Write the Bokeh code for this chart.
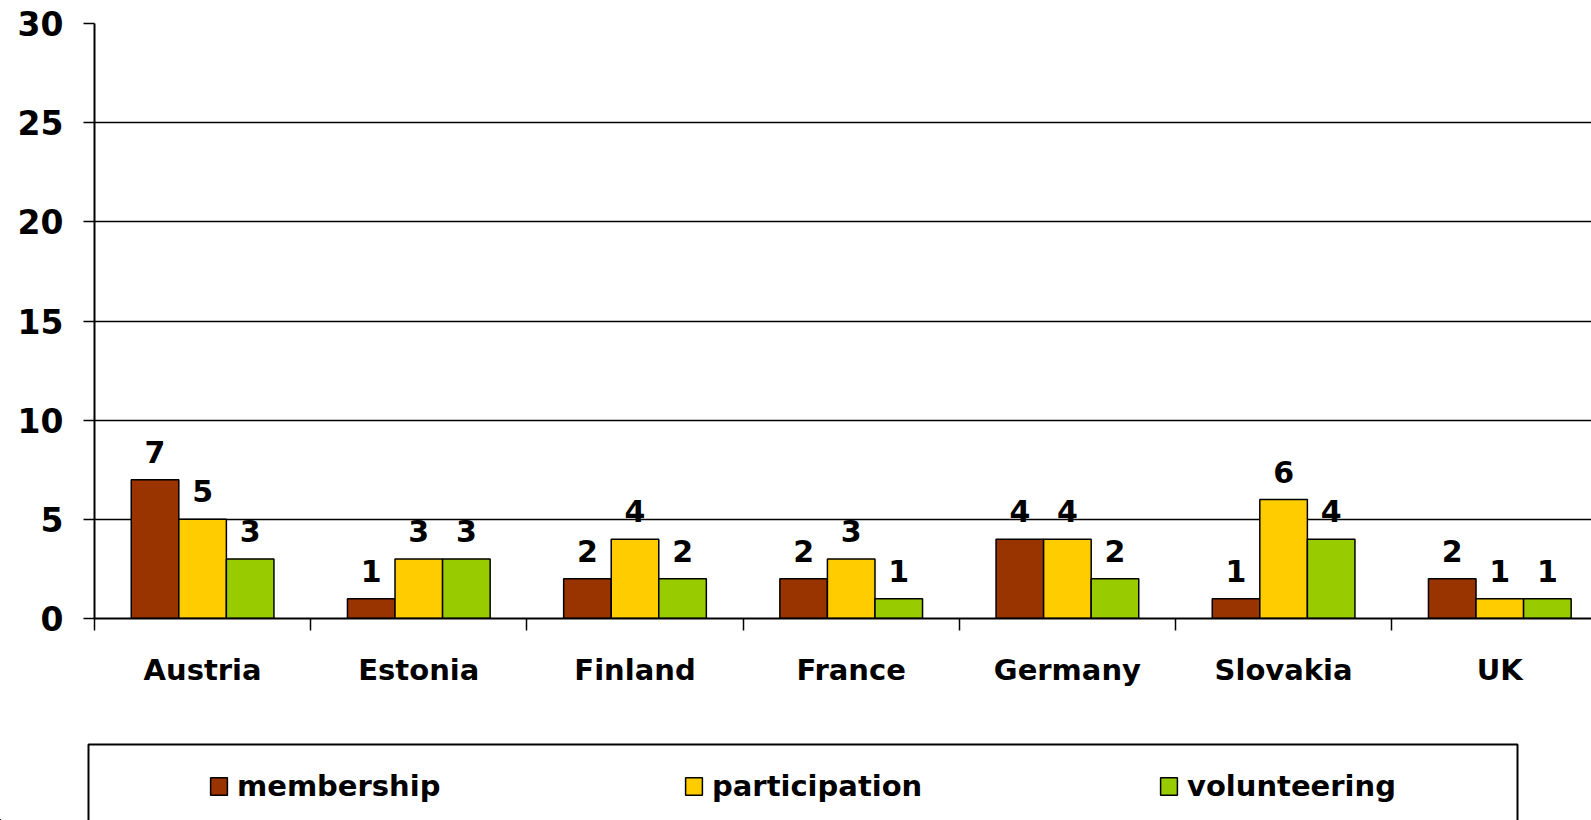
from bokeh.plotting import figure
from bokeh.models import ColumnDataSource, Range1d, FixedTicker, Legend, LegendItem, BoxAnnotation
from bokeh.layouts import column, row
from bokeh.transform import dodge
from bokeh.core.properties import value
from bokeh.embed import file_html
from bokeh.resources import INLINE

countries = ["Austria", "Estonia", "Finland", "France", "Germany", "Slovakia", "UK"]
membership = [7, 1, 2, 2, 4, 1, 2]
participation = [5, 3, 4, 3, 4, 6, 1]
volunteering = [3, 3, 2, 1, 2, 4, 1]
series_names = ["membership", "participation", "volunteering"]
y_ticks = [0, 5, 10, 15, 20, 25, 30]

FONT = "DejaVu Sans"
COLORS = ["#993300", "#FFCC00", "#99CC00"]

xc = [i + 0.5 for i in range(len(countries))]
src = ColumnDataSource(dict(
    x=xc, country=countries,
    membership=membership, participation=participation, volunteering=volunteering,
    lm=[str(v) for v in membership], lp=[str(v) for v in participation], lv=[str(v) for v in volunteering],
))

W = 1591
H1 = 720
H2 = 100
p = figure(width=W, height=H1, output_backend="svg", toolbar_location=None,
           x_range=Range1d(0, 1497 / 216.2), y_range=Range1d(0, 30),
           min_border_left=94, min_border_right=0, min_border_top=23, min_border_bottom=H1 - 618)
p.outline_line_color = None
p.background_fill_color = "white"
p.border_fill_color = "white"

bw = 0.22
offsets = [-bw, 0, bw]
labcols = ["lm", "lp", "lv"]
for off, col, lab, c in zip(offsets, series_names, labcols, COLORS):
    p.vbar(x=dodge("x", off, range=p.x_range), top=col, width=bw, source=src,
           fill_color=c, line_color="black", line_width=1.5)
    p.text(x=dodge("x", off, range=p.x_range), y=col, text=lab, source=src,
           text_align="center", text_baseline="alphabetic", y_offset=-28,
           text_font=value(FONT), text_font_style="bold", text_font_size="30px", text_color="black")

# grid
p.xgrid.visible = False
p.ygrid.ticker = FixedTicker(ticks=y_ticks)
p.ygrid.grid_line_color = "black"
p.ygrid.grid_line_width = 1.5

# y axis
ya = p.yaxis[0]
ya.ticker = FixedTicker(ticks=y_ticks)
ya.axis_line_color = "black"
ya.axis_line_width = 2
ya.major_tick_line_color = "black"
ya.major_tick_line_width = 1.5
ya.major_tick_out = 11
ya.major_tick_in = 0
ya.minor_tick_line_color = None
ya.major_label_standoff = 20
ya.major_label_text_font = FONT
ya.major_label_text_font_style = "bold"
ya.major_label_text_font_size = "33px"
ya.major_label_text_color = "black"

# x axis
xa = p.xaxis[0]
xa.ticker = FixedTicker(ticks=xc, minor_ticks=list(range(len(countries) + 1)))
xa.major_label_overrides = {x: c for x, c in zip(xc, countries)}
xa.axis_line_color = "black"
xa.axis_line_width = 2
xa.major_tick_line_color = None
xa.major_tick_out = 12
xa.major_tick_in = 0
xa.minor_tick_line_color = "black"
xa.minor_tick_line_width = 1.5
xa.minor_tick_out = 12
xa.minor_tick_in = 0
xa.major_label_standoff = 22
xa.major_label_text_font = FONT
xa.major_label_text_font_style = "bold"
xa.major_label_text_font_size = "29px"
xa.major_label_text_color = "black"

# legend strip (separate figure so the legend is not clipped by the chart frame)
X0, Y0 = 1000, 1000  # strip's ranges sit far from the data, so the proxy bars stay out of view
p2 = figure(width=W, height=H2, output_backend="svg", toolbar_location=None,
            x_range=Range1d(X0, X0 + W), y_range=Range1d(Y0, Y0 + H2),
            x_axis_type=None, y_axis_type=None,
            min_border_left=0, min_border_right=0, min_border_top=0, min_border_bottom=0)
p2.outline_line_color = None
p2.grid.visible = False
p2.background_fill_color = "white"
p2.border_fill_color = "white"

lr = [p2.vbar(x="x", top=col, width=0.2, source=src, fill_color=c, line_color="black", line_width=1.5)
      for col, c in zip(series_names, COLORS)]

box = BoxAnnotation(left=X0 + 88, right=X0 + 1517, top=Y0 + H2 - 24, bottom=Y0 - 20,
                    fill_color=None, fill_alpha=0, line_color="black", line_alpha=1, line_width=2)
p2.add_layout(box)

legend = Legend(items=[LegendItem(label=n, renderers=[r]) for n, r in zip(series_names, lr)],
                orientation="horizontal", location=(208, 17),
                glyph_width=21, glyph_height=22, label_standoff=8, label_width=446, spacing=0,
                padding=0, margin=0, border_line_color=None, background_fill_alpha=0,
                label_text_font=FONT, label_text_font_style="bold", label_text_font_size="29px",
                label_text_color="black")
p2.add_layout(legend, "center")

layout = column(p, row(p2, spacing=0), spacing=0)
open("out.html", "w").write(file_html(layout, INLINE))
